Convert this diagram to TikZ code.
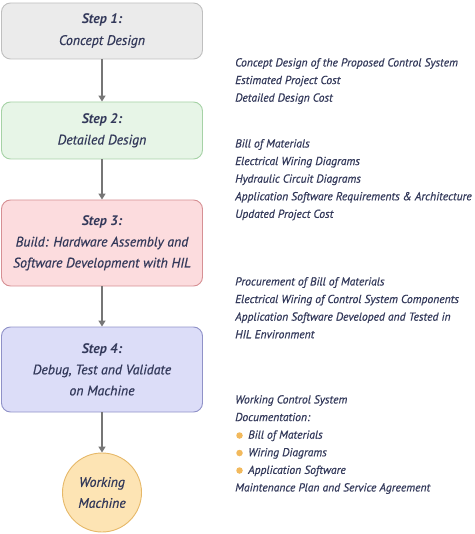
\documentclass[tikz,border=0pt]{standalone}
\usepackage{fontspec}
\setmainfont{PT Sans}[ItalicFeatures={FakeBold=0.6}]
\usetikzlibrary{arrows.meta}
\definecolor{ink}{HTML}{33395A}
\definecolor{arrowgray}{HTML}{767676}
\definecolor{dotorange}{HTML}{F2B95C}
\begin{document}
\begin{tikzpicture}[x=1pt,y=-1pt,
  stepbox/.style={draw, rounded corners=9pt, line width=0.9pt, minimum width=201pt,
    align=center, text=ink, font=\fontsize{13.8}{21}\selectfont\itshape},
  flow/.style={draw=arrowgray, line width=1.4pt, -{Triangle[length=6pt,width=7pt]}},
  outcome/.style={anchor=north west, align=left, inner sep=0pt, text=ink,
    font=\fontsize{11.6}{17.6}\selectfont\itshape},
  dot/.style={circle, fill=dotorange, inner sep=0pt, minimum size=6.5pt}]
   \useasboundingbox (0,0) rectangle (474,534);

   % steps on the left
   \node[stepbox, fill=black!8, draw=black!25, minimum height=56pt] (step1) at (102,31)
     {\textbf{Step 1:}\\Concept Design};
   \node[stepbox, fill={rgb,255:red,231;green,245;blue,231}, draw={rgb,255:red,166;green,210;blue,166}, minimum height=57pt] (step2) at (102,130.5)
     {\textbf{Step 2:}\\Detailed Design};
   \node[stepbox, fill={rgb,255:red,252;green,220;blue,222}, draw={rgb,255:red,214;green,144;blue,148}, minimum height=86pt] (step3) at (102,243)
     {\textbf{Step 3:}\\Build: Hardware Assembly and\\Software Development with HIL};
   \node[stepbox, fill={rgb,255:red,220;green,221;blue,248}, draw={rgb,255:red,144;green,146;blue,200}, minimum height=85pt] (step4) at (102,369.5)
     {\textbf{Step 4:}\\Debug, Test and Validate\\on Machine};
   \node[stepbox, circle, minimum width=79pt, fill={rgb,255:red,253;green,228;blue,180}, draw={rgb,255:red,230;green,184;blue,104}] (machine) at (102,492.5)
     {Working\\Machine};

   \draw[flow] (step1) -- (step2);
   \draw[flow] (step2) -- (step3);
   \draw[flow] (step3) -- (step4);
   \draw[flow] (step4) -- (machine);

   % outcomes on the right
   \node[outcome] (out1) at (235,58)
     {Concept Design of the Proposed Control System\\Estimated Project Cost\\Detailed Design Cost};
   \node[outcome] (out2) at (235,139)
     {Bill of Materials\\Electrical Wiring Diagrams\\Hydraulic Circuit Diagrams\\Application Software Requirements \& Architecture\\Updated Project Cost};
   \node[outcome] (out3) at (235,277)
     {Procurement of Bill of Materials\\Electrical Wiring of Control System Components\\Application Software Developed and Tested in\\HIL Environment};
   \node[outcome] (out4) at (235,395)
     {Working Control System\\Documentation:\\\hspace*{13pt}Bill of Materials\\\hspace*{13pt}Wiring Diagrams\\\hspace*{13pt}Application Software\\Maintenance Plan and Service Agreement};
   \node[dot] (b1) at (239.5,435.5) {};
   \node[dot] (b2) at (239.5,453) {};
   \node[dot] (b3) at (239.5,470.5) {};
\end{tikzpicture}
\end{document}
